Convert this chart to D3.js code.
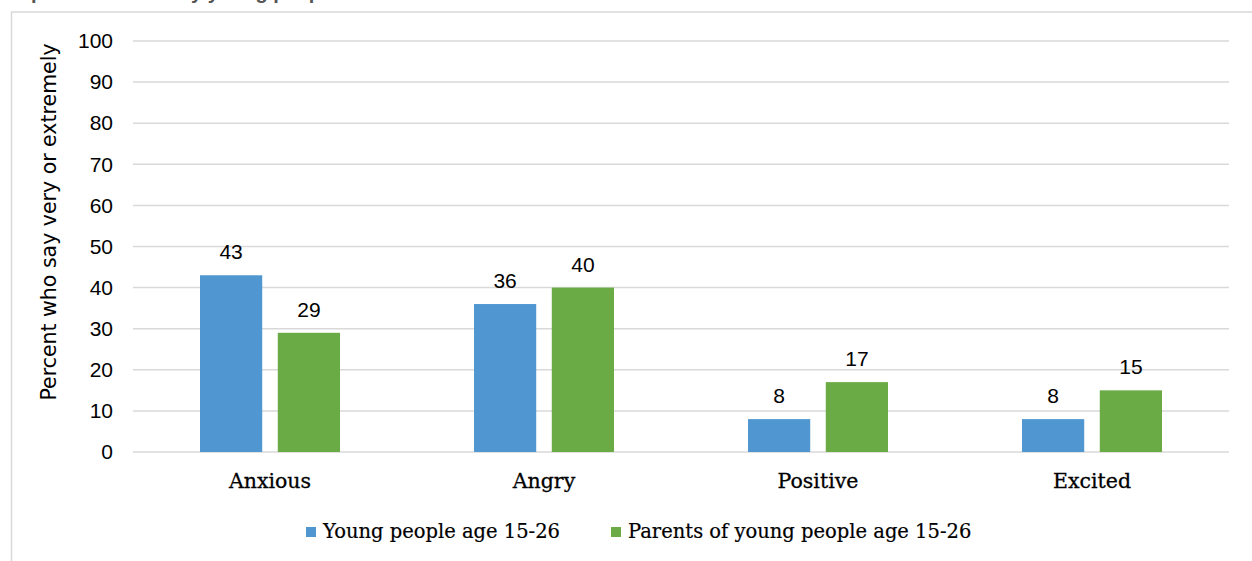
<!DOCTYPE html>
<html>
<head>
<meta charset="utf-8">
<script src="https://cdn.jsdelivr.net/npm/d3@7"></script>
<style>
  body { margin: 0; background: #fff; }
  svg { display: block; }
</style>
</head>
<body>
<svg width="1252" height="561"></svg>
<script>
// data
var categories = ["Anxious", "Angry", "Positive", "Excited"];
var seriesNames = ["Young people age 15-26", "Parents of young people age 15-26"];
var youngValues = [43, 36, 8, 8];
var parentValues = [29, 40, 17, 15];
var yTicks = [0, 10, 20, 30, 40, 50, 60, 70, 80, 90, 100];
var colors = ["#5097d1", "#6aab45"];

var svg = d3.select("svg"),
    width = +svg.attr("width"),
    height = +svg.attr("height");

// title, mostly cut off above the picture in the original
svg.append("text")
    .attr("x", 8)
    .attr("y", -1)
    .attr("font-family", "Liberation Sans")
    .attr("font-weight", "bold")
    .attr("font-size", 20)
    .attr("fill", "#555")
    .text("Top emotions felt by young people");

// chart frame (runs off right and bottom)
svg.append("rect")
    .attr("x", 11.5).attr("y", 12)
    .attr("width", 1400).attr("height", 700)
    .attr("fill", "none")
    .attr("stroke", "#d9d9d9")
    .attr("stroke-width", 1.5);

var x0 = d3.scaleBand().domain(categories).range([133, 1229]);
var x1 = d3.scaleBand().domain([0, 1]).range([67, x0.bandwidth() - 67]).paddingInner(0.2);
var y = d3.scaleLinear().domain([0, 100]).range([452, 41]);

// gridlines
svg.append("g")
  .selectAll("line")
  .data(yTicks)
  .enter().append("line")
    .attr("x1", 133).attr("x2", 1229)
    .attr("y1", function(d) { return y(d); })
    .attr("y2", function(d) { return y(d); })
    .attr("stroke", "#d9d9d9")
    .attr("stroke-width", 1.5);

// y axis (labels only)
var yAxis = svg.append("g")
    .attr("transform", "translate(133,0)")
    .call(d3.axisLeft(y).tickValues(yTicks).tickSize(0).tickPadding(20));
yAxis.select(".domain").remove();
yAxis.selectAll("text")
    .attr("font-family", "Liberation Sans")
    .attr("font-size", 21)
    .attr("fill", "#000");

svg.append("text")
    .attr("transform", "translate(56,222) rotate(-90)")
    .attr("text-anchor", "middle")
    .attr("font-family", "DejaVu Sans")
    .attr("font-size", 20.5)
    .attr("fill", "#000")
    .text("Percent who say very or extremely");

// bars
var rows = categories.map(function(c, i) {
  return { cat: c, vals: [youngValues[i], parentValues[i]] };
});

var groups = svg.append("g")
  .selectAll("g")
  .data(rows)
  .enter().append("g")
    .attr("transform", function(d) { return "translate(" + x0(d.cat) + ",0)"; });

groups.selectAll("rect")
  .data(function(d) { return d.vals; })
  .enter().append("rect")
    .attr("x", function(d, i) { return x1(i); })
    .attr("width", x1.bandwidth())
    .attr("y", function(d) { return y(d); })
    .attr("height", function(d) { return y(0) - y(d); })
    .attr("fill", function(d, i) { return colors[i]; });

groups.selectAll("text")
  .data(function(d) { return d.vals; })
  .enter().append("text")
    .attr("x", function(d, i) { return x1(i) + x1.bandwidth() / 2; })
    .attr("y", function(d) { return y(d) - 16; })
    .attr("text-anchor", "middle")
    .attr("font-family", "Liberation Sans")
    .attr("font-size", 21)
    .attr("fill", "#000")
    .text(function(d) { return d; });

// category labels
svg.append("g")
  .selectAll("text")
  .data(categories)
  .enter().append("text")
    .attr("x", function(d) { return x0(d) + x0.bandwidth() / 2; })
    .attr("y", 488)
    .attr("text-anchor", "middle")
    .attr("font-family", "DejaVu Serif")
    .attr("font-size", 20.5)
    .attr("fill", "#000")
    .attr("stroke", "#000")
    .attr("stroke-width", 0.3)
    .text(function(d) { return d; });

// legend
var legend = svg.append("g");
var lx = 306;
seriesNames.forEach(function(name, i) {
  legend.append("rect")
    .attr("x", lx).attr("y", 527)
    .attr("width", 10).attr("height", 10)
    .attr("fill", colors[i]);
  var t = legend.append("text")
    .attr("x", lx + 17)
    .attr("y", 538)
    .attr("font-family", "DejaVu Serif")
    .attr("font-size", 19.5)
    .attr("fill", "#000")
    .attr("stroke", "#000")
    .attr("stroke-width", 0.2)
    .text(name);
  lx = lx + 17 + t.node().getComputedTextLength() + 51;
});
</script>
</body>
</html>
